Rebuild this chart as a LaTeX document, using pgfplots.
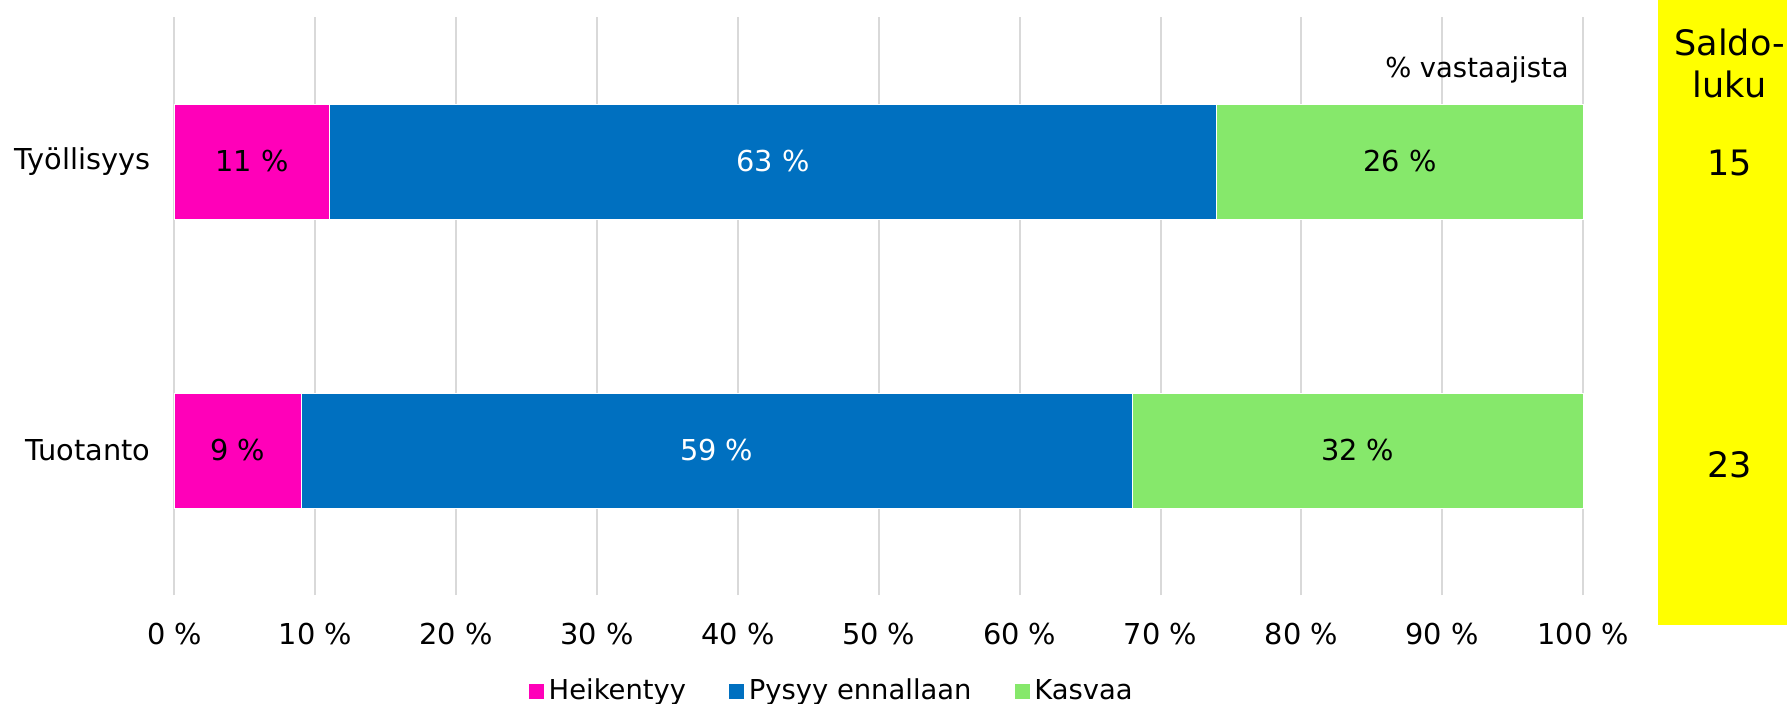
\documentclass[border=0pt]{standalone}
\usepackage{fontspec}
\setmainfont{DejaVu Sans}
\usepackage{pgfplots}
\usepackage{pgfplotstable}
\pgfplotsset{compat=1.18}

\definecolor{heik}{HTML}{FF00B9}
\definecolor{pysyy}{HTML}{0070C0}
\definecolor{kasvaa}{HTML}{86E86B}
\definecolor{gridgray}{HTML}{D9D9D9}
\definecolor{saldo}{HTML}{FFFF00}

% 1 = Työllisyys, 0 = Tuotanto
\pgfplotstableread{
pos heik pysyy kasvaa
1 11 63 26
0 9 59 32
}\kyselydata

\pgfplotsset{
  segment label/.style={
    point meta=rawx,
    nodes near coords={\pgfmathprintnumber{\pgfplotspointmeta}~\%},
    every node near coord/.style={anchor=center,
      font=\fontsize{14.4}{17}\selectfont, text=#1,
      /pgf/number format/assume math mode=true},
  },
}

\begin{document}
\begin{tikzpicture}
\useasboundingbox (-87.25pt,-54pt) rectangle (806.25pt,297.5pt);
\fill[saldo] (741.75pt,-15pt) rectangle (806.25pt,297.5pt);
\begin{axis}[
  at={(0,0)}, anchor=south west,
  scale only axis, width=704.3pt, height=289pt,
  xbar stacked, bar width=57.5pt,
  xmin=0, xmax=100, ymin=-0.5, ymax=1.5,
  clip=false,
  axis line style={draw=none},
  major tick length=0pt,
  xmajorgrids, major grid style={draw=gridgray, line width=1pt},
  xtick={0,10,...,100},
  xticklabels={0~\%,10~\%,20~\%,30~\%,40~\%,50~\%,60~\%,70~\%,80~\%,90~\%,100~\%},
  ytick={0,1},
  yticklabels={Tuotanto,Työllisyys},
  ticklabel style={font=\fontsize{14.4}{17}\selectfont},
  xticklabel style={yshift=-10.7pt},
  yticklabel style={xshift=-8.5pt},
  legend style={draw=none, at={(rel axis cs:0.467,-0.166)}, anchor=center,
    legend columns=-1, font=\fontsize{13.7}{16}\selectfont, inner sep=0pt,
    /tikz/every even column/.append style={column sep=19pt}},
  legend image code/.code={\fill[#1] (0pt,-4pt) rectangle (8pt,4pt);},
]
\addplot[fill=heik, draw=white, line width=0.4pt, segment label=black]
  table[x=heik, y=pos]{\kyselydata};
\addplot[fill=pysyy, draw=white, line width=0.4pt, segment label=white]
  table[x=pysyy, y=pos]{\kyselydata};
\addplot[fill=kasvaa, draw=white, line width=0.4pt, segment label=black]
  table[x=kasvaa, y=pos]{\kyselydata};
\legend{Heikentyy, Pysyy ennallaan, Kasvaa}

\node[anchor=east, inner sep=0pt, font=\fontsize{13.7}{16}\selectfont]
  at (rel axis cs:0.990,0.908) {\% vastaajista};
\end{axis}
\node[align=center, inner sep=0pt, font=\fontsize{17.5}{21}\selectfont]
  at (777.5pt,266pt) {Saldo-\\luku};
\node[inner sep=0pt, font=\fontsize{17.5}{21}\selectfont] at (777.5pt,216pt) {15};
\node[inner sep=0pt, font=\fontsize{17.5}{21}\selectfont] at (777.5pt,65pt) {23};
\end{tikzpicture}
\end{document}
